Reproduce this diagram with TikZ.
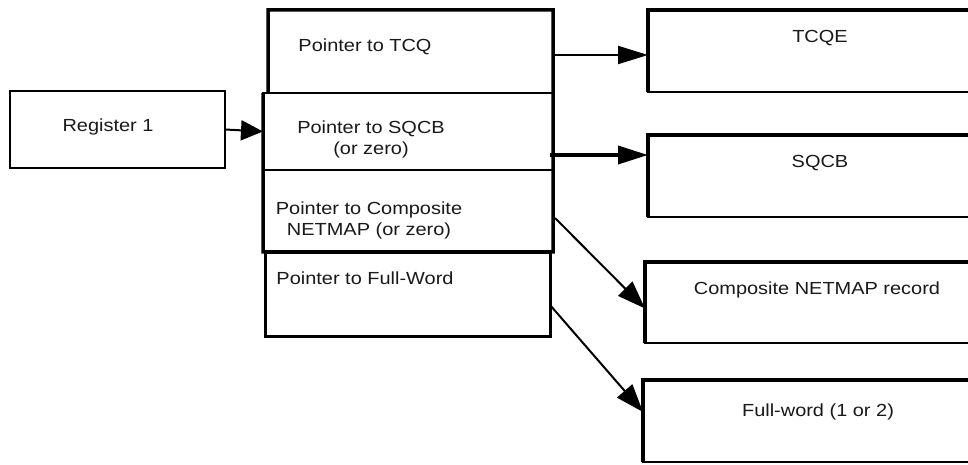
\documentclass[tikz,border=0pt]{standalone}
\usepackage{fontspec}
\setmainfont{Liberation Sans}[FakeStretch=1.14]
\usetikzlibrary{arrows.meta,calc}
\begin{document}
\begin{tikzpicture}[x=1bp,y=-1bp,
  box/.style={draw, line width=2.2bp, rectangle, inner sep=0pt, outer sep=0pt},
  thin/.style={draw, line width=1.2bp, rectangle, inner sep=0pt, outer sep=0pt},
  heavy/.style={line width=3.5bp},
  lbl/.style={inner sep=0pt, font=\fontsize{17.5bp}{21bp}\selectfont, align=center, text=black!90},
  conn/.style={line width=2bp, -{Triangle[length=30bp,width=18bp]}}]
\clip (0,0) rectangle (968,465);
\fill[white] (0,0) rectangle (968,465);

% Register box
\node[box, line width=2.5bp, minimum width=215bp, minimum height=77bp] (reg) at (117.5,129.5) {};
\node[lbl] (regt) at (108,127) {Register 1};

% Main stacked box
\node[thin, minimum width=285bp, minimum height=83bp] (sec1) at (410.5,51.5) {};
\node[thin, minimum width=290bp, minimum height=77bp] (sec2) at (408,131.5) {};
\node[thin, minimum width=290bp, minimum height=82bp] (sec3) at (408,211) {};
\node[box, line width=3bp, minimum width=285bp, minimum height=84bp] (sec4) at (407.5,295) {};
\draw[heavy] (sec1.south west) -- (sec1.north west) -- (sec1.north east) -- (sec3.south east) -- (sec3.south west) -- (sec2.north west);

\node[lbl] (t1) at (365,47) {Pointer to TCQ};
\node[lbl] (t2) at (371,139) {Pointer to SQCB\\(or zero)};
\node[lbl] (t3) at (369,220) {Pointer to Composite\\NETMAP (or zero)};
\node[lbl] (t4) at (365,278) {Pointer to Full-Word};

% Right boxes
\node[box, minimum width=332bp, minimum height=82bp] (tcqe) at (814,51) {};
\node[box, minimum width=332bp, minimum height=82bp] (sqcb) at (814,176) {};
\node[box, minimum width=335bp, minimum height=81bp] (comp) at (812.5,302.5) {};
\node[box, minimum width=337bp, minimum height=82bp] (fw) at (811.5,421) {};
\foreach \b in {tcqe,sqcb,comp,fw}
  \draw[heavy] (\b.south west) -- (\b.north west) -- (\b.north east);

\node[lbl] (tt) at (820,38) {TCQE};
\node[lbl] (st) at (820,163) {SQCB};
\node[lbl] (ct) at (817,290) {Composite NETMAP record};
\node[lbl] (ft) at (818,412) {Full-word (1 or 2)};

% Connectors
\coordinate (s1out) at (553,55);
\coordinate (s2out) at (550,155);
\coordinate (s3out) at (555,218);
\coordinate (s4out) at (550,305);
\draw[line width=2bp, -{Triangle[length=22bp,width=20bp]}] (reg.east) -- (sec2.west);
\draw[conn] (s1out) -- (tcqe.west |- s1out);
\draw[conn, line width=3.5bp] (s2out) -- (sqcb.west |- s2out);
\draw[conn, -{Triangle[length=28bp,width=20bp]}] (s3out) -- ($(comp.west)+(0,6)$);
\draw[conn, -{Triangle[length=28bp,width=20bp]}] (s4out) -- ($(fw.west)+(0,-9)$);
\end{tikzpicture}
\end{document}
